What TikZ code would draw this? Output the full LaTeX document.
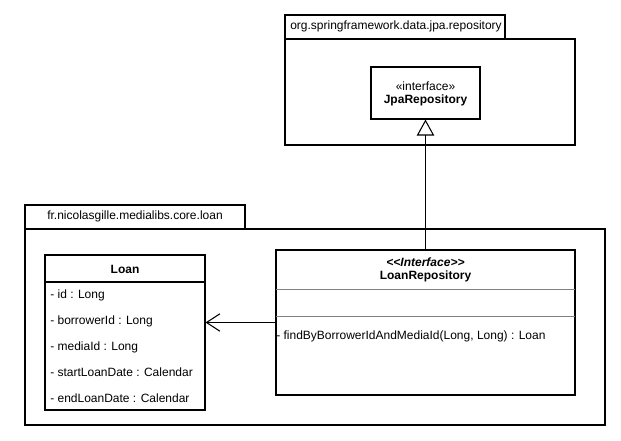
\documentclass[tikz,border=0pt]{standalone}
\usepackage{fontspec}
\setmainfont{Liberation Sans}
\usetikzlibrary{arrows.meta}
\usetikzlibrary{fit}

\tikzset{
  box/.style={draw, line width=0.8pt, inner sep=0pt, fit={#1}},
  txt/.style={inner sep=0pt, font=\fontsize{9}{11}\selectfont},
  attr/.style={txt, anchor=west},
}

\begin{document}
\begin{tikzpicture}[x=0.75pt, y=-0.75pt]
        \useasboundingbox (0,0) rectangle (621,441);

        % package org.springframework.data.jpa.repository
        \node[box={(285,15) (505,39)}] (jpatab) {};
        \node[box={(285,39) (575,145)}] (jpapkg) {};
        \node[txt, anchor=west] (jpaname) at (290,26) {org.springframework.data.jpa.repository};

        \node[box={(371,67) (480,119)}] (jpa) {};
        \node[txt] (jpastereo) at (425.5,86) {«interface»};
        \node[txt, font=\fontsize{9}{11}\selectfont\bfseries] (jpaname2) at (425.5,100) {JpaRepository};

        % package fr.nicolasgille.medialibs.core.loan
        \node[box={(25,205) (245,229)}] (loantab) {};
        \node[box={(25,229) (605,425)}] (loanpkg) {};
        \node[txt] (loanpkgname) at (135,216) {fr.nicolasgille.medialibs.core.loan};

        % class Loan
        \node[box={(45,255) (205,410)}] (loan) {};
        \draw[line width=0.8pt] (45,282) -- (205,282);
        \node[txt, font=\fontsize{9}{11}\selectfont\bfseries] (loanname) at (125,269) {Loan};
        \node[attr] (id) at (50,295) {- id : Long};
        \node[attr] (borrower) at (50,321) {- borrowerId : Long};
        \node[attr] (media) at (50,347) {- mediaId : Long};
        \node[attr] (start) at (50,372) {- startLoanDate : Calendar};
        \node[attr] (end) at (50,398) {- endLoanDate : Calendar};

        % interface LoanRepository
        \node[box={(276,250) (575,395)}] (repo) {};
        \draw[gray] (276,289) -- (575,289);
        \draw[gray] (276,316) -- (575,316);
        \node[txt, font=\fontsize{9}{11}\selectfont\bfseries\itshape] (repostereo) at (425.5,262) {<{}<Interface>{}>};
        \node[txt, font=\fontsize{9}{11}\selectfont\bfseries] (reponame) at (425.5,276) {LoanRepository};
        \node[attr] (find) at (276,336) {- findByBorrowerIdAndMediaId(Long, Long) : Loan};

        \draw[-{Triangle[open, length=12pt, width=13pt]}, line width=0.8pt] (repo.north) -- (jpa.south);
        \draw[-{Straight Barb[length=10pt, width=13pt]}, line width=0.8pt] (repo.west) -- (repo.west -| loan.east);
      \end{tikzpicture}
\end{document}
